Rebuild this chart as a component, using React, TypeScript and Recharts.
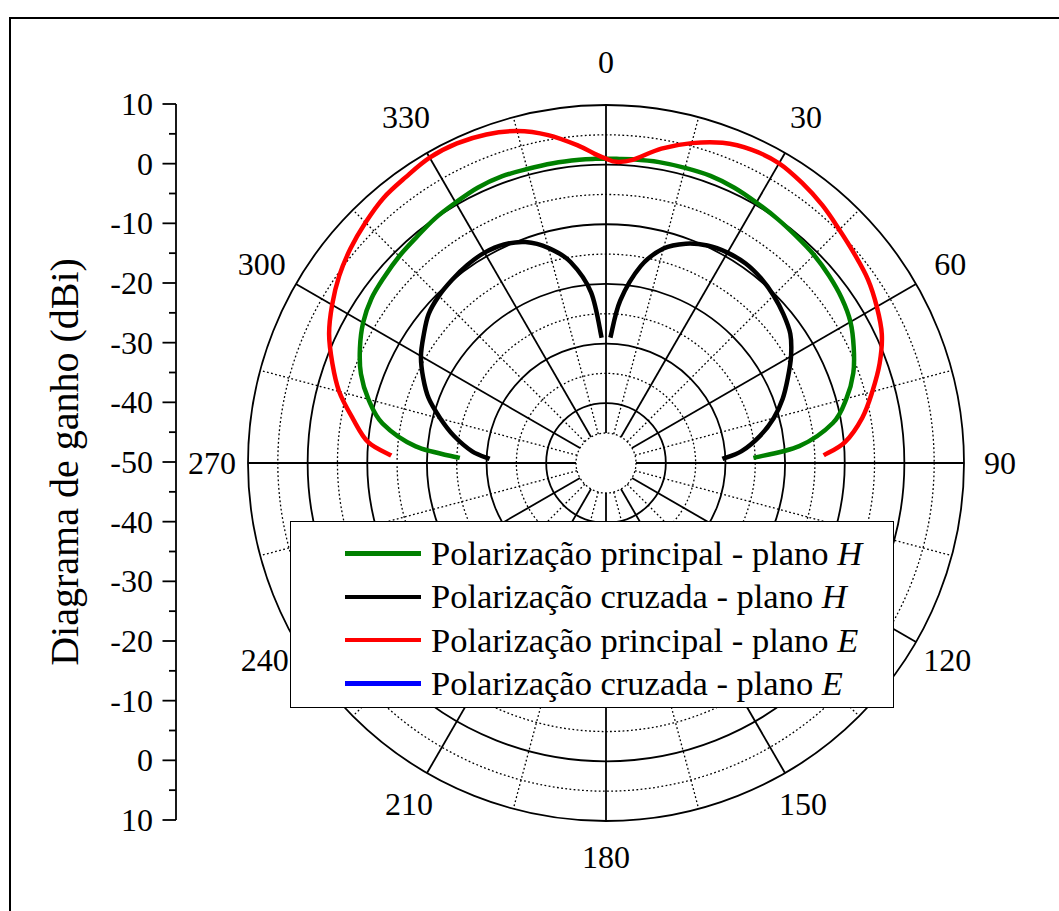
import React from "react";
import {
  RadarChart,
  Radar,
  PolarGrid,
  PolarAngleAxis,
  PolarRadiusAxis,
  Legend,
  LineChart,
  XAxis,
  YAxis,
} from "recharts";

const FONT = "'Liberation Serif', 'Times New Roman', serif";

// angle in degrees, 0 = broadside (top), clockwise positive
const angles = [
  -88, -85, -80, -75, -70, -65, -60, -55, -50, -45, -40, -35, -30, -25, -20,
  -15, -10, -5, -2, 0, 2, 5, 10, 15, 20, 25, 30, 35, 40, 45, 50, 55, 60, 65,
  70, 75, 80, 85, 88,
];

// gain in dBi
const copolH = [
  -25.5, -18, -12, -8.8, -6.3, -4.5, -3.0, -2.0, -1.5, -1.0, -0.6, 0, 0.4,
  0.9, 1.1, 1.0, 1.0, 1.0, 1.0, 1.0, 1.0, 1.1, 1.2, 1.2, 1.2, 0.9, 0.4, 0,
  -0.4, -0.7, -1.2, -1.8, -2.7, -4.2, -5.9, -8.3, -11.4, -17.5, -25.3,
];
const crossH = [
  -30.5, -27.5, -24.2, -21.3, -18.4, -16.2, -14.2, -12.7, -11.2, -10.4, -9.9,
  -9.5, -9.3, -9.6, -10.6, -12.7, -15.8, -21.3, -29, null, -29, -22.7, -16.5,
  -12.8, -10.9, -9.8, -9.3, -9.2, -9.6, -10.3, -11.2, -12.3, -14.2, -16.4,
  -18.5, -20.9, -23.8, -27.2, -30.5,
];
const copolE = [
  -14, -10, -6.9, -3.7, -1.2, 1.2, 3.0, 4.6, 5.9, 7.0, 8.0, 8.5, 9.1, 9.1, 8.6,
  7.6, 5.8, 3.4, 1.8, 1.0, 0.5, 1.0, 3.5, 5.5, 7.1, 7.9, 8.0, 7.3, 6.4, 5.3,
  4.4, 3.6, 2.4, 1.0, -1.2, -3.8, -6.4, -9.8, -13.5,
];
const crossE: (number | null)[] = [];

const seriesNames = [
  "Polarização principal - plano H",
  "Polarização cruzada - plano H",
  "Polarização principal - plano E",
  "Polarização cruzada - plano E",
];

const angleTicks = [-150, -120, -90, -60, -30, 0, 30, 60, 90, 120, 150, 180];
const angleMinorTicks = [
  -165, -135, -105, -75, -45, -15, 15, 45, 75, 105, 135, 165,
];
const ringTicks = [-40, -30, -20, -10, 0, 10];
const ringMinorTicks = [-45, -35, -25, -15, -5, 5];
// left scale: distance from the centre, labelled as gain (|v| - 50)
const gainTicks = [
  -60, -55, -50, -45, -40, -35, -30, -25, -20, -15, -10, -5, 0, 5, 10, 15, 20,
  25, 30, 35, 40, 45, 50, 55, 60,
];

const data = angles.map((angle, i) => ({
  angle,
  copolH: copolH[i] ?? null,
  crossH: crossH[i] ?? null,
  copolE: copolE[i] ?? null,
  crossE: crossE[i] ?? null,
}));

// smooth open path through the radar points, broken where a value is missing
function smoothPath(points: any[]) {
  const segs: any[][] = [];
  let cur: any[] = [];
  points.forEach((p) => {
    const ok =
      p.value != null && Number.isFinite(p.x) && Number.isFinite(p.y);
    if (ok) cur.push(p);
    else {
      if (cur.length) segs.push(cur);
      cur = [];
    }
  });
  if (cur.length) segs.push(cur);
  return segs
    .filter((s) => s.length > 1)
    .map((s) => {
      let d = `M${s[0].x},${s[0].y}`;
      for (let i = 0; i < s.length - 1; i++) {
        const p0 = s[i - 1] ?? s[i];
        const p1 = s[i];
        const p2 = s[i + 1];
        const p3 = s[i + 2] ?? s[i + 1];
        const c1x = p1.x + (p2.x - p0.x) / 6;
        const c1y = p1.y + (p2.y - p0.y) / 6;
        const c2x = p2.x - (p3.x - p1.x) / 6;
        const c2y = p2.y - (p3.y - p1.y) / 6;
        d += `C${c1x},${c1y} ${c2x},${c2y} ${p2.x},${p2.y}`;
      }
      return d;
    })
    .join("");
}

const CurveShape = (props: any) => (
  <path
    d={smoothPath(props.points ?? [])}
    fill="none"
    stroke={props.stroke}
    strokeWidth={props.strokeWidth}
    strokeLinejoin="round"
  />
);

const AngleTick = (props: any) => {
  const { x, y, payload } = props;
  const rad = (payload.coordinate * Math.PI) / 180;
  // labels sit a little further out above the centre
  const off = 28 + 7 * Math.max(0, Math.sin(rad));
  return (
    <text
      x={x + off * Math.cos(rad)}
      y={y - off * Math.sin(rad)}
      textAnchor="middle"
      dominantBaseline="central"
      fontFamily={FONT}
      fontSize={32}
      fill="#000"
    >
      {(payload.value + 360) % 360}
    </text>
  );
};

const GainTick = (props: any) => {
  const { x, y, payload } = props;
  const v = payload.value;
  const major = v % 10 === 0;
  return (
    <g>
      <line
        x1={x - (major ? 13.5 : 7)}
        x2={x}
        y1={y}
        y2={y}
        stroke="#000"
        strokeWidth={1.8}
      />
      {major && (
        <text
          x={x - 23}
          y={y}
          textAnchor="end"
          dominantBaseline="central"
          fontFamily={FONT}
          fontSize={32}
          fill="#000"
        >
          {Math.abs(v) - 50}
        </text>
      )}
    </g>
  );
};

const GainTitle = ({ viewBox }: any) => {
  const cy = viewBox.y + viewBox.height / 2;
  return (
    <text
      x={64}
      y={cy}
      transform={`rotate(-90 64 ${cy})`}
      textAnchor="middle"
      dominantBaseline="central"
      fontFamily={FONT}
      fontSize={40}
      fill="#000"
    >
      Diagrama de ganho (dBi)
    </text>
  );
};

const LegendBox = ({ payload }: any) => {
  const items = [...(payload ?? [])].sort(
    (a: any, b: any) =>
      seriesNames.indexOf(String(a.value)) - seriesNames.indexOf(String(b.value))
  );
  return (
    <div
      style={{
        width: 604,
        height: 187,
        boxSizing: "border-box",
        border: "1.5px solid #000",
        background: "#fff",
        paddingTop: 10,
        paddingLeft: 54,
        fontFamily: FONT,
        fontSize: 34.5,
        color: "#000",
        textAlign: "left",
      }}
    >
      {items.map((e: any) => {
        const name = String(e.value);
        return (
          <div
            key={name}
            style={{ display: "flex", alignItems: "center", height: 43.3 }}
          >
            <span
              style={{
                display: "inline-block",
                width: 76,
                height: 4.5,
                background: e.color,
                marginRight: 10,
              }}
            />
            <span style={{ whiteSpace: "nowrap" }}>
              {name.slice(0, -1)}
              <i>{name.slice(-1)}</i>
            </span>
          </div>
        );
      })}
    </div>
  );
};

export default function App() {
  return (
    <div
      style={{
        position: "absolute",
        left: 0,
        top: 0,
        width: 1059,
        height: 911,
        overflow: "hidden",
        background: "#fff",
      }}
    >
      <div
        style={{
          position: "absolute",
          left: 9,
          top: 17,
          width: 1200,
          height: 1200,
          border: "2px solid #000",
        }}
      />
      <div style={{ position: "absolute", left: 0, top: 0 }}>
        <RadarChart
          width={1059}
          height={911}
          data={data}
          cx={606}
          cy={463}
          innerRadius={30}
          outerRadius={358}
          startAngle={270}
          endAngle={-90}
          margin={{ top: 0, right: 0, bottom: 0, left: 0 }}
        >
          <PolarAngleAxis
            angleAxisId="min"
            dataKey="angle"
            type="number"
            domain={[-180, 180]}
            allowDataOverflow
            ticks={angleMinorTicks}
            tick={false}
            tickLine={false}
            axisLine={false}
          />
          <PolarAngleAxis
            angleAxisId="maj"
            dataKey="angle"
            type="number"
            domain={[-180, 180]}
            allowDataOverflow
            ticks={angleTicks}
            tick={AngleTick}
            tickLine={false}
            axisLine={false}
          />
          <PolarRadiusAxis
            radiusAxisId="min"
            type="number"
            domain={[-45, 10]}
            allowDataOverflow
            ticks={ringMinorTicks}
            tick={false}
            axisLine={false}
          />
          <PolarRadiusAxis
            radiusAxisId="maj"
            type="number"
            domain={[-45, 10]}
            allowDataOverflow
            ticks={ringTicks}
            tick={false}
            axisLine={false}
          />
          <PolarGrid
            angleAxisId="min"
            radiusAxisId="min"
            gridType="circle"
            stroke="#000"
            strokeWidth={1.3}
            strokeDasharray="1.8 2.4"
          />
          <PolarGrid
            angleAxisId="maj"
            radiusAxisId="maj"
            gridType="circle"
            stroke="#000"
            strokeWidth={1.8}
          />
          <Radar
            name={seriesNames[0]}
            dataKey="copolH"
            angleAxisId="maj"
            radiusAxisId="maj"
            stroke="#008000"
            strokeWidth={4.5}
            fill="none"
            shape={CurveShape}
            isAnimationActive={false}
          />
          <Radar
            name={seriesNames[1]}
            dataKey="crossH"
            angleAxisId="maj"
            radiusAxisId="maj"
            stroke="#000000"
            strokeWidth={4.5}
            fill="none"
            shape={CurveShape}
            isAnimationActive={false}
          />
          <Radar
            name={seriesNames[2]}
            dataKey="copolE"
            angleAxisId="maj"
            radiusAxisId="maj"
            stroke="#ff0000"
            strokeWidth={4.5}
            fill="none"
            shape={CurveShape}
            isAnimationActive={false}
          />
          <Radar
            name={seriesNames[3]}
            dataKey="crossE"
            angleAxisId="maj"
            radiusAxisId="maj"
            stroke="#0000ff"
            strokeWidth={4.5}
            fill="none"
            shape={CurveShape}
            isAnimationActive={false}
          />
          <Legend
            content={LegendBox}
            wrapperStyle={{ position: "absolute", left: 290, top: 521, width: 604 }}
          />
        </RadarChart>
      </div>
      <div style={{ position: "absolute", left: 0, top: 0 }}>
        <LineChart
          width={200}
          height={911}
          data={gainTicks.map((v) => ({ v }))}
          margin={{ top: 104, right: 0, bottom: 91, left: 0 }}
        >
          <XAxis hide />
          <YAxis
            type="number"
            width={176}
            domain={[-60, 60]}
            allowDataOverflow
            ticks={gainTicks}
            interval={0}
            tick={GainTick}
            tickLine={false}
            tickSize={0}
            tickMargin={0}
            axisLine={{ stroke: "#000", strokeWidth: 1.8 }}
            label={GainTitle}
          />
        </LineChart>
      </div>
    </div>
  );
}
